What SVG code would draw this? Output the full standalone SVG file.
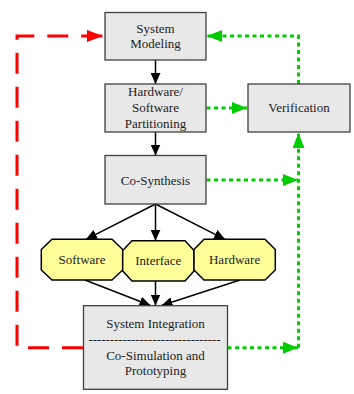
<svg xmlns="http://www.w3.org/2000/svg" width="354" height="394" viewBox="0 0 354 394">
<style>
.box{fill:#e8e8e8;stroke:#404040;stroke-width:1.3}
.oct{fill:#ffff99;stroke:#000;stroke-width:1.5}
.t{font-family:'Liberation Serif','Times New Roman',Times,serif;font-size:13px;fill:#222;text-anchor:middle}
.blk{stroke:#000;stroke-width:1.5;fill:none}
.red{stroke:#ff0000;stroke-width:3;fill:none;stroke-dasharray:21 13}
.grn{stroke:#00cc00;stroke-width:3;fill:none;stroke-dasharray:4 3.5}
</style>
<defs>
<marker id="ab" markerUnits="userSpaceOnUse" markerWidth="12" markerHeight="10" refX="11" refY="5" orient="auto"><path d="M0,0 L11,5 L0,10 Z" fill="#000"/></marker>
<marker id="ag" markerUnits="userSpaceOnUse" markerWidth="16" markerHeight="12" refX="15" refY="6" orient="auto"><path d="M0,0 L15,6 L0,12 Z" fill="#00cc00"/></marker>
<marker id="ar" markerUnits="userSpaceOnUse" markerWidth="17" markerHeight="12" refX="16" refY="6" orient="auto"><path d="M0,0 L16,6 L0,12 Z" fill="#ff0000"/></marker>
</defs>
<g id="connectors">
<path class="red" d="M83,347.7 H17 V36 H103" marker-end="url(#ar)"/>
<path class="grn" d="M298.5,84 V36 H207" marker-end="url(#ag)"/>
<path class="grn" d="M206.5,108 H247" marker-end="url(#ag)"/>
<path class="grn" d="M206.5,180 H298" marker-end="url(#ag)"/>
<path class="grn" d="M227.5,347.7 H298" marker-end="url(#ag)"/>
<path class="grn" d="M298.5,347.7 V133" marker-end="url(#ag)"/>
<path class="blk" d="M155.5,60 V84" marker-end="url(#ab)"/>
<path class="blk" d="M155.5,132 V155.5" marker-end="url(#ab)"/>
<path class="blk" d="M155.5,204 L86,239.3" marker-end="url(#ab)"/>
<path class="blk" d="M155.5,204 V240.7" marker-end="url(#ab)"/>
<path class="blk" d="M155.5,204 L225,239.3" marker-end="url(#ab)"/>
<path class="blk" d="M85,280 L150.5,305.5" marker-end="url(#ab)"/>
<path class="blk" d="M155.5,281 V305.5" marker-end="url(#ab)"/>
<path class="blk" d="M240,280 L161.5,305.5" marker-end="url(#ab)"/>
</g>
<g id="system-modeling">
<rect class="box" x="105" y="12.5" width="101" height="47.5"/>
<text class="t" font-family="Liberation Serif, serif" x="155.5" y="32.5">System</text>
<text class="t" font-family="Liberation Serif, serif" x="155.5" y="48">Modeling</text>
</g>
<g id="partitioning">
<rect class="box" x="105" y="84" width="101" height="48"/>
<text class="t" font-family="Liberation Serif, serif" x="155.5" y="95.5">Hardware/</text>
<text class="t" font-family="Liberation Serif, serif" x="155.5" y="112">Software</text>
<text class="t" font-family="Liberation Serif, serif" x="155.5" y="127.5">Partitioning</text>
</g>
<g id="verification">
<rect class="box" x="248" y="84" width="102" height="48"/>
<text class="t" font-family="Liberation Serif, serif" x="299" y="112">Verification</text>
</g>
<g id="co-synthesis">
<rect class="box" x="105" y="155.5" width="101" height="48.5"/>
<text class="t" font-family="Liberation Serif, serif" x="155.5" y="184.5">Co-Synthesis</text>
</g>
<g id="software">
<polygon class="oct" points="52,239.3 112,239.3 122.7,249.5 122.7,270 112,280 52,280 41.3,270 41.3,249.5"/>
<text class="t" font-family="Liberation Serif, serif" x="82" y="264">Software</text>
</g>
<g id="interface">
<polygon class="oct" points="132,240.7 185,240.7 194,250.5 194,271 185,281 132,281 122.7,271 122.7,250.5"/>
<text class="t" font-family="Liberation Serif, serif" x="158.3" y="265">Interface</text>
</g>
<g id="hardware">
<polygon class="oct" points="204,239.3 265,239.3 275.3,249.5 275.3,270 265,280 204,280 194,270 194,249.5"/>
<text class="t" font-family="Liberation Serif, serif" x="234.6" y="264">Hardware</text>
</g>
<g id="system-integration">
<rect class="box" x="83.5" y="305.7" width="144" height="83.6"/>
<text class="t" font-family="Liberation Serif, serif" x="155.5" y="328">System Integration</text>
<text class="t" font-family="Liberation Serif, serif" x="154.5" y="343.5" textLength="132" lengthAdjust="spacing">-------------------------------</text>
<text class="t" font-family="Liberation Serif, serif" x="155.5" y="360">Co-Simulation and</text>
<text class="t" font-family="Liberation Serif, serif" x="155.5" y="375">Prototyping</text>
</g>
</svg>
